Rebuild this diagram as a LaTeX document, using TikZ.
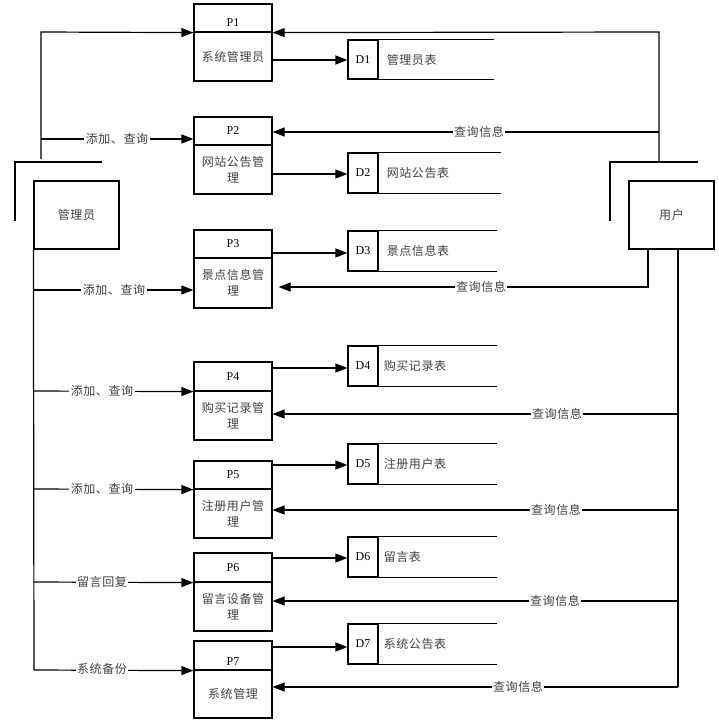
\documentclass[tikz,border=0pt]{standalone}
\usepackage{fontspec}
\setmainfont{Liberation Serif}
\newfontfamily\cjk[LetterSpace=5]{Noto Sans CJK SC}
\newcommand\cjkf{\cjk\fontsize{12}{16}\selectfont}
\usetikzlibrary{arrows.meta}
\begin{document}
\begin{tikzpicture}[x=1pt,y=-1pt,
  ln/.style={line width=1.2pt},
  arr/.style={line width=1.2pt,-{Triangle[length=12pt,width=9pt]}},
  pbox/.style={draw,line width=1.2pt,minimum width=78pt,inner sep=0pt},
  ent/.style={draw,line width=1.2pt,minimum width=85pt,minimum height=68pt,inner sep=0pt,font=\cjkf,text=black!75},
  ptl/.style={font=\fontsize{12}{14}\selectfont,inner sep=0pt},
  cn/.style={font=\cjkf,text=black!75,inner sep=0pt,align=center},
  lab/.style={font=\cjkf,text=black!75,fill=white,inner sep=1.5pt},
  dcell/.style={draw,line width=1.2pt,minimum width=30pt,minimum height=40pt,inner sep=0pt,font=\fontsize{12}{14}\selectfont},
]
\useasboundingbox (0,0) rectangle (718,725);

% entities
\node[ent] (adm) at (76.5,215) {管理员};
\node[ent] (usr) at (671.5,215) {用户};
\draw[ln] (15,221) -- (15,162) -- (102,162);
\draw[ln] (610,221) -- (610,162) -- (698,162);

% process boxes
\node[pbox,minimum height=28pt] (p1a) at (233,18) {};
\node[pbox,minimum height=49pt] (p1b) at (233,56.5) {};
\node[pbox,minimum height=28pt] (p2a) at (233,131) {};
\node[pbox,minimum height=49pt] (p2b) at (233,169.5) {};
\node[pbox,minimum height=28pt] (p3a) at (233,244) {};
\node[pbox,minimum height=50pt] (p3b) at (233,283) {};
\node[pbox,minimum height=29pt] (p4a) at (233,376.5) {};
\node[pbox,minimum height=49pt] (p4b) at (233,415.5) {};
\node[pbox,minimum height=28pt] (p5a) at (233,475) {};
\node[pbox,minimum height=49pt] (p5b) at (233,513.5) {};
\node[pbox,minimum height=29pt] (p6a) at (233,567.5) {};
\node[pbox,minimum height=49pt] (p6b) at (233,606.5) {};
\node[pbox,minimum height=29pt] (p7a) at (233,655.5) {};
\node[pbox,minimum height=48pt] (p7b) at (233,694) {};

\node[ptl] (p1l) at (233,23) {P1};
\node[ptl] (p2l) at (p2a) {P2};
\node[ptl] (p3l) at (p3a) {P3};
\node[ptl] (p4l) at (p4a) {P4};
\node[ptl] (p5l) at (p5a) {P5};
\node[ptl] (p6l) at (p6a) {P6};
\node[ptl] (p7l) at (233,662) {P7};

\node[cn] (p1x) at (p1b) {系统管理员};
\node[cn] (p2x) at (p2b) {网站公告管\\理};
\node[cn] (p3x) at (p3b) {景点信息管\\理};
\node[cn] (p4x) at (p4b) {购买记录管\\理};
\node[cn] (p5x) at (p5b) {注册用户管\\理};
\node[cn] (p6x) at (p6b) {留言设备管\\理};
\node[cn] (p7x) at (p7b) {系统管理};

% data stores
\node[dcell,minimum height=39pt] (d1) at (363,59.5) {D1};
\node[dcell] (d2) at (363,173) {D2};
\node[dcell] (d3) at (363,251) {D3};
\node[dcell] (d4) at (363,366) {D4};
\node[dcell] (d5) at (363,464) {D5};
\node[dcell] (d6) at (363,557) {D6};
\node[dcell] (d7) at (363,644) {D7};
\draw[ln] (d1.north east) -- ++(115,0) (d1.south east) -- ++(115,0);
\draw[ln] (d2.north east) -- ++(122,0) (d2.south east) -- ++(122,0);
\draw[ln] (d3.north east) -- ++(118,0) (d3.south east) -- ++(118,0);
\draw[ln] (d4.north east) -- ++(118,0) (d4.south east) -- ++(118,0);
\draw[ln] (d5.north east) -- ++(118,0) (d5.south east) -- ++(118,0);
\draw[ln] (d6.north east) -- ++(118,0) (d6.south east) -- ++(118,0);
\draw[ln] (d7.north east) -- ++(118,0) (d7.south east) -- ++(118,0);
\node[cn,anchor=west] (d1n) at ([xshift=8pt]d1.east) {管理员表};
\node[cn,anchor=west] (d2n) at ([xshift=8pt]d2.east) {网站公告表};
\node[cn,anchor=west] (d3n) at ([xshift=8pt]d3.east) {景点信息表};
\node[cn,anchor=west] (d4n) at ([xshift=5pt]d4.east) {购买记录表};
\node[cn,anchor=west] (d5n) at ([xshift=5pt]d5.east) {注册用户表};
\node[cn,anchor=west] (d6n) at ([xshift=5pt]d6.east) {留言表};
\node[cn,anchor=west] (d7n) at ([xshift=5pt]d7.east) {系统公告表};

% process -> store
\draw[arr] (p1b.east |- 0,60) -- (d1.west |- 0,60);
\draw[arr] (p2b.east |- 0,174) -- (d2.west |- 0,174);
\draw[arr] (p3a.east |- 0,253) -- (d3.west |- 0,253);
\draw[arr] (p4a.east |- 0,368) -- (d4.west |- 0,368);
\draw[arr] (p5a.east |- 0,465) -- (d5.west |- 0,465);
\draw[arr] (p6a.east |- 0,558) -- (d6.west |- 0,558);
\draw[arr] (p7a.east |- 0,647) -- (d7.west |- 0,647);

% admin side
\coordinate (lt) at (41,159);
\coordinate (tb) at (34,670);
\draw[arr] (lt) -- (41,32) -- (p1a.south west);
\draw[arr] (41,139) -- (p2a.west |- 0,139);
\draw[ln] (adm.south west) -- (tb);
\draw[arr] (34,290) -- (p3b.west |- 0,290);
\draw[arr] (34,391) -- (p4a.south west);
\draw[arr] (34,489) -- (p5a.south west);
\draw[arr] (34,582) -- (p6a.south west);
\draw[arr] (tb) -- (p7a.south west);

% user side
\coordinate (rt) at (659,162);
\coordinate (rb) at (678,687);
\draw[arr] (rt) -- (659,32) -- (p1a.south east);
\draw[arr] (659,132) -- (p2a.east |- 0,132);
\draw[arr] (usr.south -| 648,0) -- (648,287) -- ([xshift=6pt]p3b.east |- 0,287);
\draw[ln] (usr.south -| rb) -- (rb);
\draw[arr] (678,414) -- (p4b.east |- 0,414);
\draw[arr] (678,510) -- (p5b.east |- 0,510);
\draw[arr] (678,601) -- (p6b.east |- 0,601);
\draw[arr] (rb) -- (p7b.east |- 0,687);

% labels
\node[lab] (la2) at (117,139) {添加、查询};
\node[lab] (la3) at (114,290) {添加、查询};
\node[lab] (la4) at (102,391) {添加、查询};
\node[lab] (la5) at (102,489) {添加、查询};
\node[lab] (la6) at (102,582) {留言回复};
\node[lab] (la7) at (102,669) {系统备份};
\node[lab] (lb2) at (479,132) {查询信息};
\node[lab] (lb3) at (481,287) {查询信息};
\node[lab] (lb4) at (557,414) {查询信息};
\node[lab] (lb5) at (556,510) {查询信息};
\node[lab] (lb6) at (555,601) {查询信息};
\node[lab] (lb7) at (518,687) {查询信息};
\end{tikzpicture}
\end{document}
